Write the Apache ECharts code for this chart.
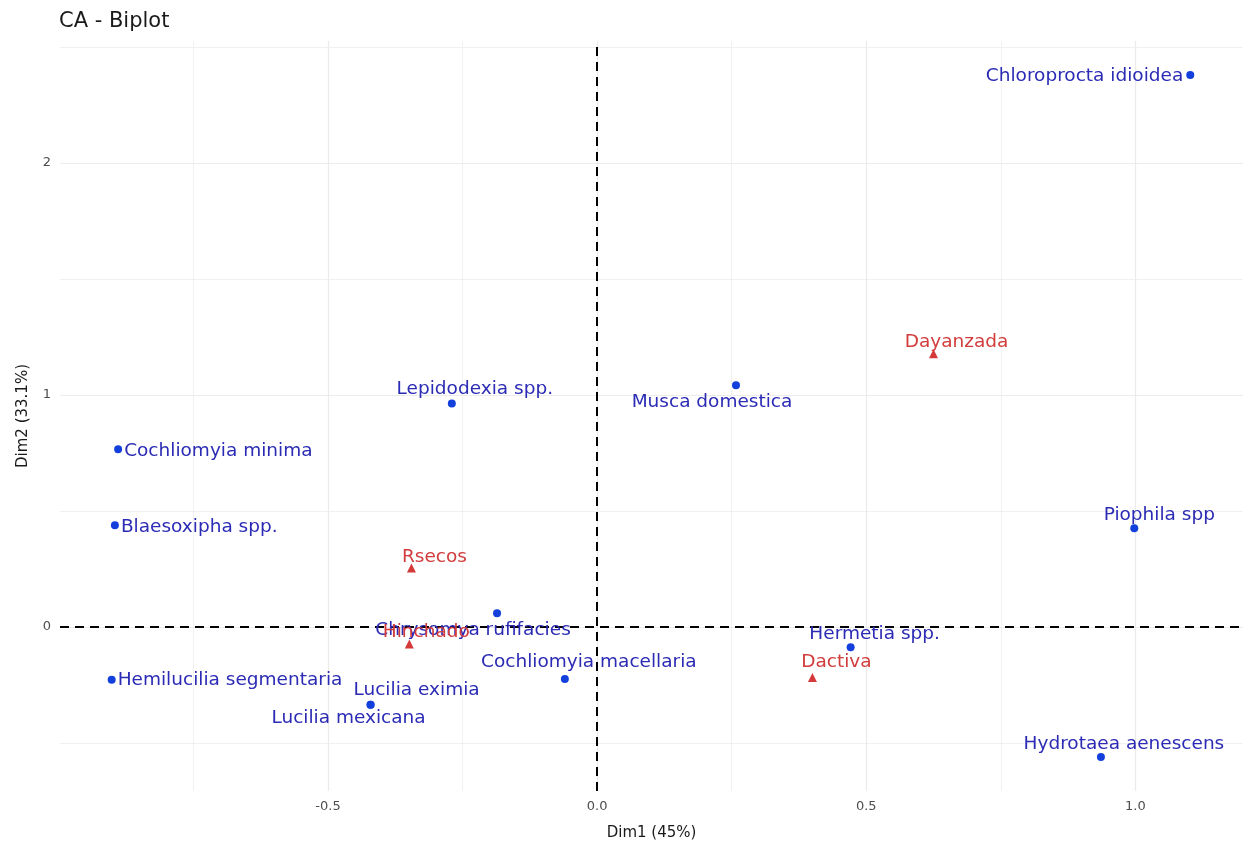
<!DOCTYPE html>
<html>
<head>
<meta charset="utf-8">
<script src="https://cdn.jsdelivr.net/npm/echarts@6/dist/echarts.min.js"></script>
<style>html,body{margin:0;padding:0;background:#fff}#c{width:1243px;height:846px}</style>
</head>
<body>
<div id="c"></div>
<script>
// Species (rows)
const rowNames = ["Chloroprocta idioidea","Lepidodexia spp.","Musca domestica","Cochliomyia minima","Blaesoxipha spp.","Piophila spp","Chrysomya rufifacies","Hermetia spp.","Cochliomyia macellaria","Hemilucilia segmentaria","Lucilia eximia","Lucilia mexicana","Hydrotaea aenescens"];
const rowX = [1.102, -0.270, 0.258, -0.890, -0.896, 0.998, -0.186, 0.471, -0.060, -0.902, -0.421, -0.421, 0.936];
const rowY = [2.378, 0.963, 1.042, 0.766, 0.439, 0.426, 0.060, -0.087, -0.224, -0.227, -0.334, -0.334, -0.560];
// Decomposition stages (columns)
const colNames = ["Dayanzada","Rsecos","Hinchado","Dactiva"];
const colX = [0.625, -0.345, -0.349, 0.400];
const colY = [1.178, 0.255, -0.073, -0.217];
// Tick labels
const xTicks = [-0.5, 0, 0.5, 1.0];
const yTicks = [0, 1, 2];
const xMinor = [-0.75, -0.25, 0.25, 0.75];
const yMinor = [-0.5, 0.5, 1.5, 2.5];

// label layout (pixel offsets, alignment) – separate from the data
const rowLabelLayout = [
  {align:'right', offset:[-7,1]},
  {align:'center', offset:[23,-14]},
  {align:'center', offset:[-24,17]},
  {align:'left', offset:[6,2]},
  {align:'left', offset:[6,2]},
  {align:'center', offset:[25,-13]},
  {align:'center', offset:[-24,17]},
  {align:'center', offset:[24,-13]},
  {align:'center', offset:[24,-17]},
  {align:'left', offset:[6,0]},
  {align:'center', offset:[46,-14]},
  {align:'center', offset:[-22,14]},
  {align:'center', offset:[23,-13]}
];
const colLabelLayout = [
  {align:'center', offset:[23,-11]},
  {align:'center', offset:[23,-11]},
  {align:'center', offset:[17,-12]},
  {align:'center', offset:[24,-15]}
];

const FONT = 'DejaVu Sans';
const rowData = rowNames.map((n,i)=>({
  name:n, value:[rowX[i], rowY[i]],
  label:{position:'inside', align:rowLabelLayout[i].align, offset:rowLabelLayout[i].offset}
}));
const colData = colNames.map((n,i)=>({
  name:n, value:[colX[i], colY[i]],
  label:{position:'inside', align:colLabelLayout[i].align, offset:colLabelLayout[i].offset}
}));

const gridLine = (axis, v, w) => ({[axis]: v, lineStyle:{color:'#ebebeb', width:w, type:'solid'}});
const gridData = [
  ...xMinor.map(v=>gridLine('xAxis', v, 0.7)),
  ...yMinor.map(v=>gridLine('yAxis', v, 0.7)),
  ...xTicks.map(v=>gridLine('xAxis', v, 1.2)),
  ...yTicks.map(v=>gridLine('yAxis', v, 1.2))
];

const chart = echarts.init(document.getElementById('c'), null, {renderer:'canvas'});
chart.setOption({
  animation:false,
  backgroundColor:'#fff',
  title:{text:'CA - Biplot', left:54, top:6, textStyle:{fontFamily:FONT, fontSize:21, fontWeight:'normal', color:'#1a1a1a'}},
  grid:{left:60, right:0, top:41, bottom:54, containLabel:false},
  xAxis:{
    type:'value', min:-0.998, max:1.2,
    name:'Dim1 (45%)', nameLocation:'middle', nameGap:35,
    nameTextStyle:{fontFamily:FONT, fontSize:15, color:'#1a1a1a'},
    axisLine:{show:false},
    axisTick:{show:true, length:5, lineStyle:{color:'#333', width:1}, customValues:xTicks},
    axisLabel:{fontFamily:FONT, fontSize:13, color:'#4d4d4d', margin:9, customValues:xTicks, formatter:v=>Number(v).toFixed(1)},
    splitLine:{show:false}
  },
  yAxis:{
    type:'value', min:-0.706, max:2.525,
    name:'Dim2 (33.1%)', nameLocation:'middle', nameGap:29, nameRotate:90,
    nameTextStyle:{fontFamily:FONT, fontSize:15, color:'#1a1a1a'},
    axisLine:{show:false},
    axisTick:{show:true, length:5, lineStyle:{color:'#333', width:1}, customValues:yTicks},
    axisLabel:{fontFamily:FONT, fontSize:13, color:'#4d4d4d', margin:9, customValues:yTicks, formatter:v=>String(Math.round(v))},
    splitLine:{show:false}
  },
  series:[
    {type:'scatter', data:[], silent:true, z:1,
      markLine:{silent:true, symbol:'none', animation:false, label:{show:false}, data:gridData}},
    {type:'scatter', data:[], silent:true, z:2,
      markLine:{silent:true, symbol:'none', animation:false, label:{show:false},
        lineStyle:{color:'#000', width:2, type:[9,6]},
        data:[{xAxis:0},{yAxis:0}]}},
    {type:'scatter', name:'rows', z:5, data:rowData, symbol:'circle', symbolSize:8,
      itemStyle:{color:'#1340dc', opacity:1},
      label:{show:true, formatter:p=>p.name, fontFamily:FONT, fontSize:18.5, color:'#2b2bb5'}},
    {type:'scatter', name:'cols', z:6, data:colData, symbol:'triangle', symbolSize:9,
      itemStyle:{color:'#d43a3a', opacity:1},
      label:{show:true, formatter:p=>p.name, fontFamily:FONT, fontSize:18.5, color:'#d23c3c'}}
  ]
});
</script>
</body>
</html>
